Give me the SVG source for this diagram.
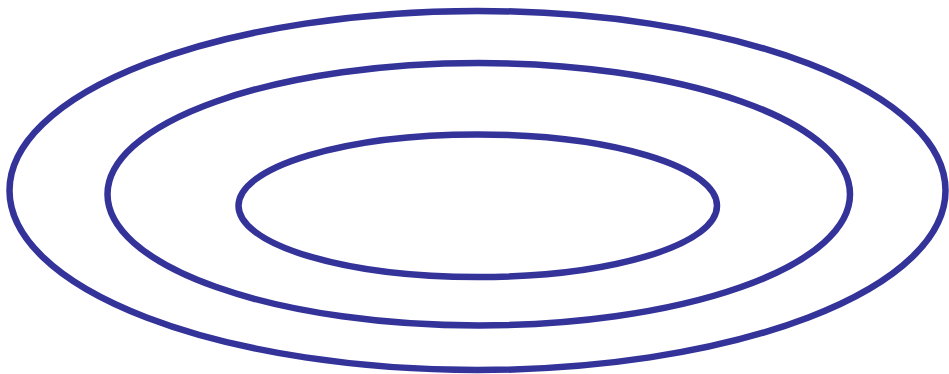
<svg xmlns="http://www.w3.org/2000/svg" width="949" height="374" viewBox="0 0 949 374">
<style>
.ring{fill:none;stroke:#333399;stroke-width:6.5}
</style>
<rect width="949" height="374" fill="#ffffff"/>
<g id="outer"><ellipse class="ring" cx="477.5" cy="190.5" rx="468" ry="179.5"/></g>
<g id="middle"><ellipse class="ring" cx="478.75" cy="194.25" rx="371.25" ry="131.25"/></g>
<g id="inner"><ellipse class="ring" cx="477.75" cy="205.75" rx="239.25" ry="71.25"/></g>
<g id="connectors"></g>
</svg>
